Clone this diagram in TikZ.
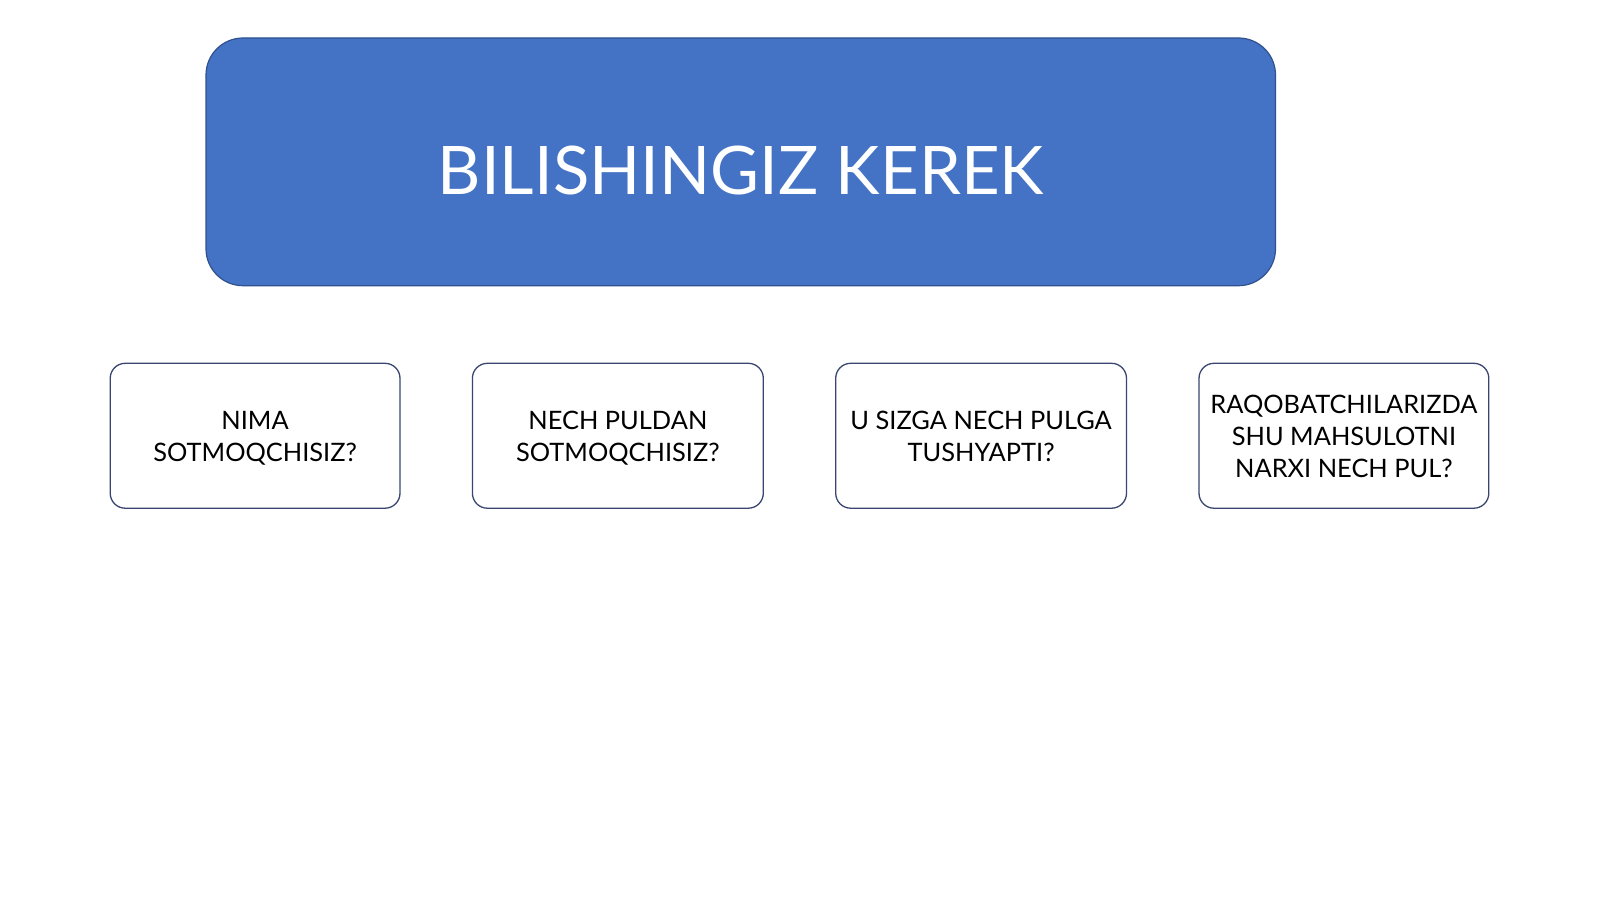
\documentclass[tikz,border=0pt]{standalone}
\usepackage{fontspec}
\setmainfont{Lato}
\definecolor{titleblue}{HTML}{4472C4}
\definecolor{titleedge}{HTML}{2F528F}
\definecolor{boxedge}{HTML}{3B4670}
\begin{document}
\begin{tikzpicture}[x=1pt,y=-1pt,
  titlebox/.style={draw=titleedge,line width=1.2pt,fill=titleblue,rounded corners=37pt},
  qbox/.style={draw=boxedge,line width=1.3pt,fill=white,rounded corners=15pt},
  qtext/.style={text=black,align=center,font=\fontsize{25.4}{31.7}\selectfont}]
\useasboundingbox (0,0) rectangle (1600,899);
\fill[white] (0,0) rectangle (1600,899);
\draw[titlebox] (206,38) rectangle (1275.5,285.7);
\node[text=white,anchor=base,font=\fontsize{67}{72}\selectfont] (title) at (740.8,194.9) {BILISHINGIZ KEREK};
\draw[qbox] (110.2,363.3) rectangle (400,508.2);
\node[qtext] (q1) at (255.1,438.5) {NIMA\\SOTMOQCHISIZ?};
\draw[qbox] (472.4,363.3) rectangle (763.3,508.2);
\node[qtext] (q2) at (617.85,438.5) {NECH PULDAN\\SOTMOQCHISIZ?};
\draw[qbox] (835.7,363.3) rectangle (1126.5,508.2);
\node[qtext] (q3) at (981.1,436.5) {U SIZGA NECH PULGA\\TUSHYAPTI?};
\draw[qbox] (1199,363.3) rectangle (1488.8,508.2);
\node[qtext] (q4) at (1343.9,436.5) {RAQOBATCHILARIZDA\\SHU MAHSULOTNI\\NARXI NECH PUL?};
\end{tikzpicture}
\end{document}
